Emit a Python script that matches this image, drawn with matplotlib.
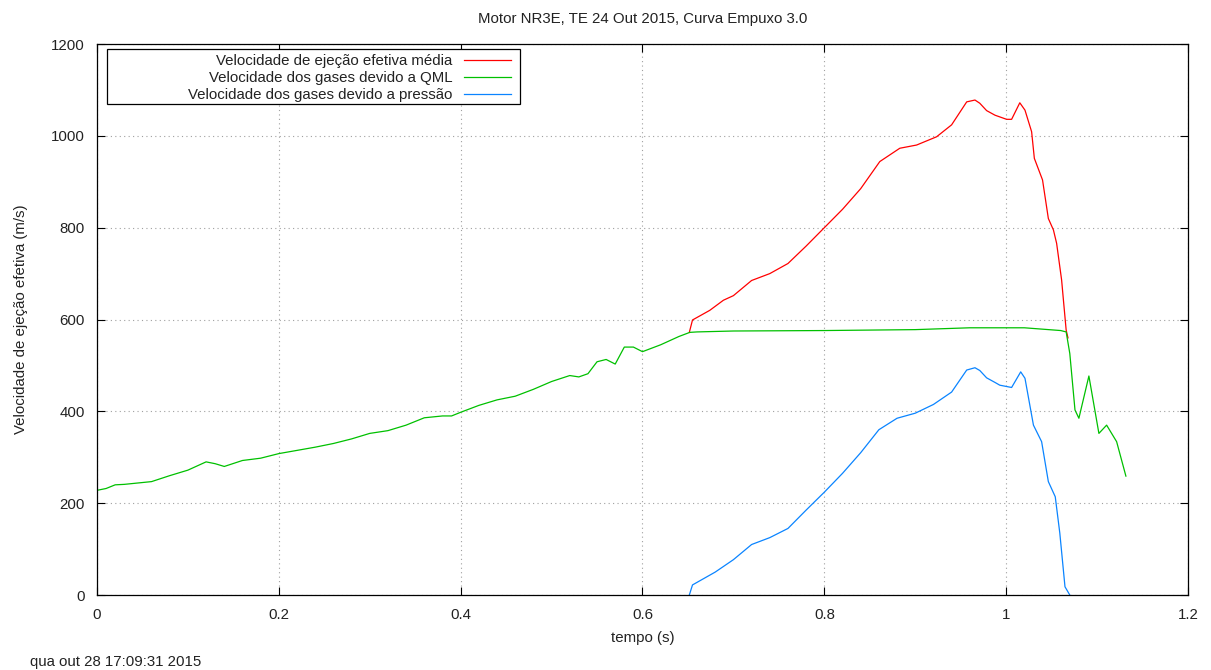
import matplotlib
matplotlib.use('Agg')
import matplotlib.pyplot as plt
from matplotlib.patches import Rectangle

# velocidade dos gases devido a QML (verde)
t_qml = [0.0, 0.01, 0.02, 0.03, 0.05, 0.06, 0.08, 0.1, 0.12, 0.13, 0.14, 0.16, 0.18, 0.2,
         0.22, 0.24, 0.26, 0.28, 0.3, 0.32, 0.34, 0.36, 0.38, 0.39, 0.4, 0.42, 0.44, 0.46,
         0.48, 0.5, 0.52, 0.53, 0.54, 0.55, 0.56, 0.57, 0.58, 0.59, 0.6, 0.62, 0.64, 0.652,
         0.66, 0.7, 0.8, 0.9, 0.96, 1.0, 1.02, 1.06, 1.066, 1.070, 1.0757, 1.080, 1.091,
         1.102, 1.1105, 1.1215, 1.1317]
v_qml = [228, 232, 240, 241, 245, 247, 260, 272, 290, 286, 280, 293, 298, 308,
         315, 322, 330, 340, 352, 358, 370, 386, 390, 390, 398, 413, 425, 433,
         448, 465, 478, 475, 482, 508, 513, 503, 540, 540, 530, 545, 563, 572,
         573, 575, 576, 578, 582, 582, 582, 576, 573, 526, 403, 385, 477,
         352, 370, 334, 259]

# velocidade de ejecao efetiva media (vermelho)
t_med = [0.6515, 0.655, 0.674, 0.689, 0.70, 0.72, 0.74, 0.76, 0.78, 0.80, 0.82, 0.84,
         0.861, 0.883, 0.9015, 0.9235, 0.940, 0.9566, 0.9657, 0.971, 0.9785, 0.9877,
         1.0005, 1.006, 1.015, 1.0207, 1.028, 1.031, 1.040, 1.0464, 1.052, 1.0555,
         1.061, 1.063, 1.066, 1.068]
v_med = [572, 599, 620, 642, 652, 685, 700, 722, 760, 800, 840, 885,
         944, 973, 980, 998, 1024, 1074, 1078, 1071, 1055, 1045,
         1036, 1036, 1072, 1056, 1009, 951, 904, 820, 795, 766,
         686, 642, 577, 560]

# velocidade dos gases devido a pressao (azul)
t_pre = [0.6515, 0.655, 0.68, 0.70, 0.72, 0.74, 0.76, 0.78, 0.80, 0.82, 0.84, 0.86,
         0.88, 0.90, 0.92, 0.94, 0.9566, 0.9657, 0.971, 0.9785, 0.9877, 0.993, 1.006,
         1.016, 1.0207, 1.030, 1.039, 1.0464, 1.054, 1.059, 1.0647, 1.070]
v_pre = [0, 22, 50, 77, 110, 125, 145, 185, 224, 265, 310, 360,
         385, 396, 415, 442, 490, 495, 489, 473, 463, 457, 452,
         486, 472, 370, 334, 247, 214, 135, 18, 0]

plt.rcParams['font.family'] = ['Liberation Sans', 'DejaVu Sans']
plt.rcParams['font.size'] = 10.8

fig = plt.figure(figsize=(12.11, 6.70), dpi=100)
ax = fig.add_axes([0.0801, 0.1119, 0.9009, 0.8224])

ax.plot(t_med, v_med, color='#ff0000', lw=0.9, label='Velocidade de ejeção efetiva média')
ax.plot(t_qml, v_qml, color='#00c000', lw=0.9, label='Velocidade dos gases devido a QML')
ax.plot(t_pre, v_pre, color='#0a84ff', lw=0.9, label='Velocidade dos gases devido a pressão')

ax.set_xlim(0, 1.2)
ax.set_ylim(0, 1200)
ax.set_xticks([0, 0.2, 0.4, 0.6, 0.8, 1.0, 1.2])
ax.set_xticklabels(['0', '0.2', '0.4', '0.6', '0.8', '1', '1.2'])
ax.set_yticks(range(0, 1201, 200))
ax.tick_params(direction='in', top=True, right=True, length=6, width=0.8, pad=9,
               colors='black', labelcolor='#222222')
ax.grid(True, color='#a0a0a0', linestyle=(0, (1, 3)), linewidth=0.8)
for s in ax.spines.values():
    s.set_linewidth(0.9)

ax.set_xlabel('tempo (s)', labelpad=7, color='#222222')
ax.set_ylabel('Velocidade de ejeção efetiva (m/s)', labelpad=16, color='#222222')
ax.set_title('Motor NR3E, TE 24 Out 2015, Curva Empuxo 3.0', pad=15, fontsize=10.8,
             color='#222222')

# caixa da legenda no estilo gnuplot (mais larga que o texto)
ax.add_patch(Rectangle((0.00917, 0.8911), 0.3786, 0.0998, transform=ax.transAxes,
                       fill=True, facecolor='white', edgecolor='black', lw=0.9, zorder=4))
leg = ax.legend(loc='upper right', bbox_to_anchor=(0.3826, 0.9890), markerfirst=False,
                frameon=False, handlelength=3.1, handletextpad=0.8, borderaxespad=0,
                labelspacing=0.22, borderpad=0.25)
leg.set_zorder(5)
for txt in leg.get_texts():
    txt.set_ha('right')
    txt.set_color('#222222')

fig.text(0.025, 0.006, 'qua out 28 17:09:31 2015', color='#222222')

fig.savefig('out.png', dpi=100)
